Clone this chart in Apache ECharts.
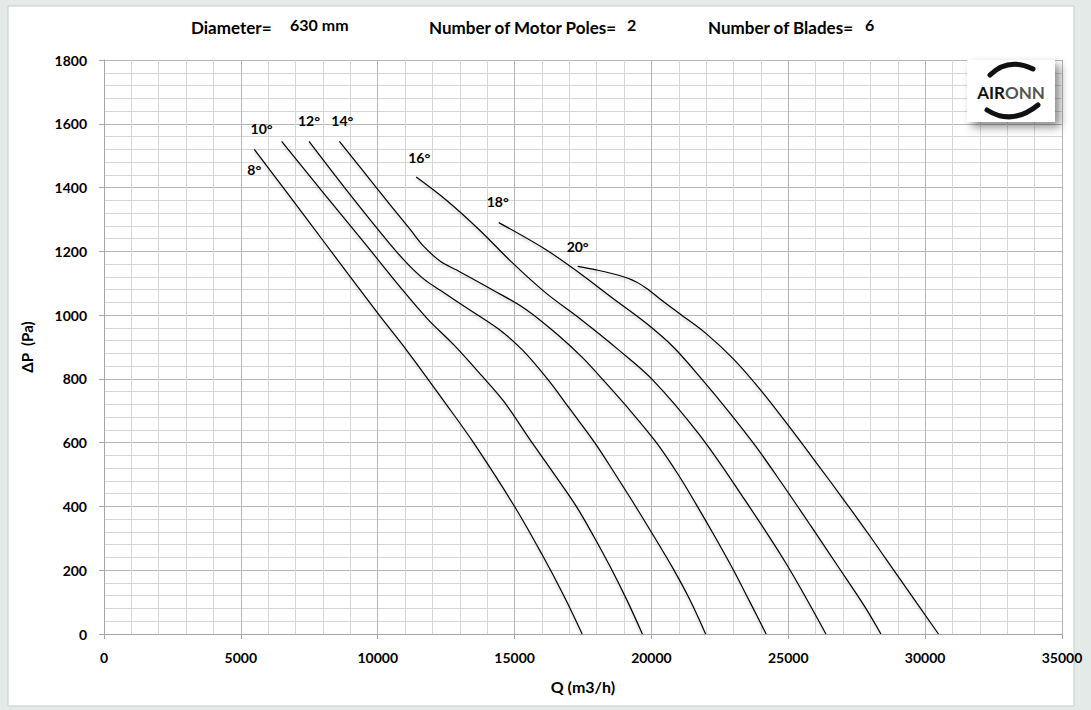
<!DOCTYPE html>
<html>
<head>
<meta charset="utf-8">
<script src="https://cdn.jsdelivr.net/npm/echarts@6/dist/echarts.min.js"></script>
<style>
html,body{margin:0;padding:0;background:#e3eae7;}
#chart{width:1091px;height:710px;}
</style>
</head>
<body>
<div id="chart"></div>
<script>
// ---- data ----
const angleNames = ['8°', '10°', '12°', '14°', '16°', '18°', '20°'];
const xTicks = [0, 5000, 10000, 15000, 20000, 25000, 30000, 35000];
const yTicks = [0, 200, 400, 600, 800, 1000, 1200, 1400, 1600, 1800];

const q8  = [5490, 6500, 8000, 10000, 11100, 12378, 13500, 15000, 16000, 16800, 17470];
const p8  = [1520, 1405, 1234, 1006, 885, 735, 600, 400, 250, 120, 0];

const q10 = [6490, 8000, 9500, 10800, 11800, 12800, 13800, 14600, 15600, 16500, 17256, 17900, 18500, 19100, 19670];
const p10 = [1545, 1385, 1228, 1090, 990, 905, 810, 730, 605, 495, 400, 305, 210, 107, 0];

const q12 = [7490, 8963, 10427, 11100, 11700, 12300, 13354, 14451, 15285, 16200, 17000, 17927, 18650, 19329, 20100, 20793, 21400, 21980];
const p12 = [1545, 1381, 1225, 1160, 1112, 1077, 1017, 954, 891, 800, 708, 600, 505, 413, 305, 205, 108, 0];

const q14 = [8600, 9950, 11200, 11700, 12300, 12870, 14200, 15430, 16650, 17500, 18200, 19200, 20183, 21000, 21646, 22300, 23000, 23600, 24190];
const p14 = [1545, 1400, 1267, 1214, 1168, 1142, 1079, 1017, 933, 865, 800, 703, 600, 497, 405, 308, 200, 100, 0];

const q16 = [11405, 12500, 13717, 14933, 16152, 17369, 18800, 20045, 21750, 23330, 24915, 26375];
const p16 = [1433, 1361, 1267, 1163, 1069, 990, 891, 797, 625, 431, 222, 0];

const q18 = [14423, 16150, 17370, 18585, 19800, 20800, 21800, 22800, 23800, 24800, 25800, 26800, 27800, 28383];
const p18 = [1290, 1205, 1132, 1053, 975, 900, 803, 700, 590, 468, 342, 214, 85, 0];

const q20 = [17305, 17977, 18950, 19450, 19900, 20400, 21020, 22000, 23000, 24000, 25000, 26000, 27000, 28000, 29000, 30487];
const p20 = [1153, 1142, 1121, 1104, 1079, 1045, 1005, 942, 862, 764, 654, 540, 424, 305, 182, 0];

const qSets = [q8, q10, q12, q14, q16, q18, q20];
const pSets = [p8, p10, p12, p14, p16, p18, p20];

// ---- styles (label offsets in pixels relative to each curve's first point) ----
const labelOffsets = [[0, 20], [-20, -13], [0, -21], [3, -21], [3, -20], [-1, -21], [0, -20]];
const FONT = 'Lato, "Open Sans", sans-serif';

const series = angleNames.map((name, i) => ({
  name: name,
  type: 'line',
  data: qSets[i].map((q, k) => [q, pSets[i][k]]),
  showSymbol: false,
  smooth: 0.35,
  silent: true,
  lineStyle: {color: '#000', width: 1.2, shadowColor: 'rgba(0,0,0,0.22)', shadowBlur: 3, shadowOffsetY: 2},
  markPoint: {
    silent: true,
    symbol: 'circle',
    symbolSize: 0,
    data: [{
      coord: [qSets[i][0], pSets[i][0]],
      label: {show: true, formatter: name, position: 'inside', offset: labelOffsets[i],
              color: '#000', fontWeight: 'bold', fontSize: 14, fontFamily: FONT}
    }]
  }
}));

const headStyle = {fontSize: 17, fontWeight: 'bold', fontFamily: FONT, fill: '#000', textVerticalAlign: 'bottom'};
const numStyle = {fontSize: 16, fontWeight: 'bold', fontFamily: FONT, fill: '#000', textVerticalAlign: 'bottom'};

const chart = echarts.init(document.getElementById('chart'), null, {renderer: 'svg'});
chart.setOption({
  animation: false,
  backgroundColor: '#e3eae7',
  graphic: [
    {type: 'rect', shape: {x: 8, y: 6, width: 1066, height: 700}, style: {fill: '#fff', stroke: '#c5cdca', lineWidth: 1}, z: -10},
    {type: 'text', style: Object.assign({x: 191, y: 36, text: 'Diameter='}, headStyle)},
    {type: 'text', style: Object.assign({x: 290, y: 32, text: '630 mm'}, numStyle)},
    {type: 'text', style: Object.assign({x: 429, y: 36, text: 'Number of Motor Poles='}, headStyle)},
    {type: 'text', style: Object.assign({x: 627, y: 32, text: '2'}, numStyle)},
    {type: 'text', style: Object.assign({x: 708, y: 36, text: 'Number of Blades='}, headStyle)},
    {type: 'text', style: Object.assign({x: 865, y: 32, text: '6'}, numStyle)},
    // logo
    {type: 'rect', shape: {x: 967, y: 60, width: 88, height: 62},
     style: {fill: '#fff', shadowBlur: 10, shadowColor: 'rgba(0,0,0,0.45)', shadowOffsetX: 5, shadowOffsetY: 5}, z: 50},
    {type: 'bezierCurve', shape: {x1: 990, y1: 75, x2: 1033, y2: 69, cpx1: 1008, cpy1: 57},
     style: {stroke: '#111', lineWidth: 5, fill: null, lineCap: 'round'}, z: 51},
    {type: 'bezierCurve', shape: {x1: 987, y1: 110, x2: 1038, y2: 105, cpx1: 1012, cpy1: 126},
     style: {stroke: '#111', lineWidth: 5, fill: null, lineCap: 'round'}, z: 51},
    {type: 'text', style: {x: 1011, y: 92, text: '{a|AIR}{b|ONN}', textAlign: 'center', textVerticalAlign: 'middle',
      rich: {a: {fontSize: 17, fontWeight: 'bold', fontFamily: FONT, fill: '#111'},
             b: {fontSize: 17, fontWeight: 'bold', fontFamily: FONT, fill: '#555'}}}, z: 52}
  ],
  grid: {left: 104, right: 29, top: 60, bottom: 76, containLabel: false},
  xAxis: {
    type: 'value', min: xTicks[0], max: xTicks[xTicks.length - 1], interval: 5000,
    name: 'Q (m3/h)', nameLocation: 'middle', nameGap: 44,
    nameTextStyle: {fontWeight: 'bold', fontSize: 16, fontFamily: FONT, color: '#000'},
    axisLine: {show: true, lineStyle: {color: '#a6a6a6'}},
    axisTick: {show: true, length: 5, lineStyle: {color: '#a6a6a6'}},
    axisLabel: {margin: 16, fontWeight: 'bold', fontSize: 14, fontFamily: FONT, color: '#000', formatter: v => String(v)},
    splitLine: {show: true, lineStyle: {color: '#b4b4b4', width: 1}},
    minorTick: {show: false, splitNumber: 5},
    minorSplitLine: {show: true, lineStyle: {color: '#d6d6d6', width: 1}}
  },
  yAxis: {
    type: 'value', min: yTicks[0], max: yTicks[yTicks.length - 1], interval: 200,
    name: 'ΔP  (Pa)', nameLocation: 'middle', nameGap: 70, nameRotate: 90,
    nameTextStyle: {fontWeight: 'bold', fontSize: 15, fontFamily: FONT, color: '#000'},
    axisLine: {show: true, lineStyle: {color: '#a6a6a6'}},
    axisTick: {show: true, length: 5, lineStyle: {color: '#a6a6a6'}},
    axisLabel: {margin: 17, fontWeight: 'bold', fontSize: 14, fontFamily: FONT, color: '#000', formatter: v => String(v)},
    splitLine: {show: true, lineStyle: {color: '#b4b4b4', width: 1}},
    minorTick: {show: false, splitNumber: 5},
    minorSplitLine: {show: true, lineStyle: {color: '#d6d6d6', width: 1}}
  },
  series: series
});
</script>
</body>
</html>
